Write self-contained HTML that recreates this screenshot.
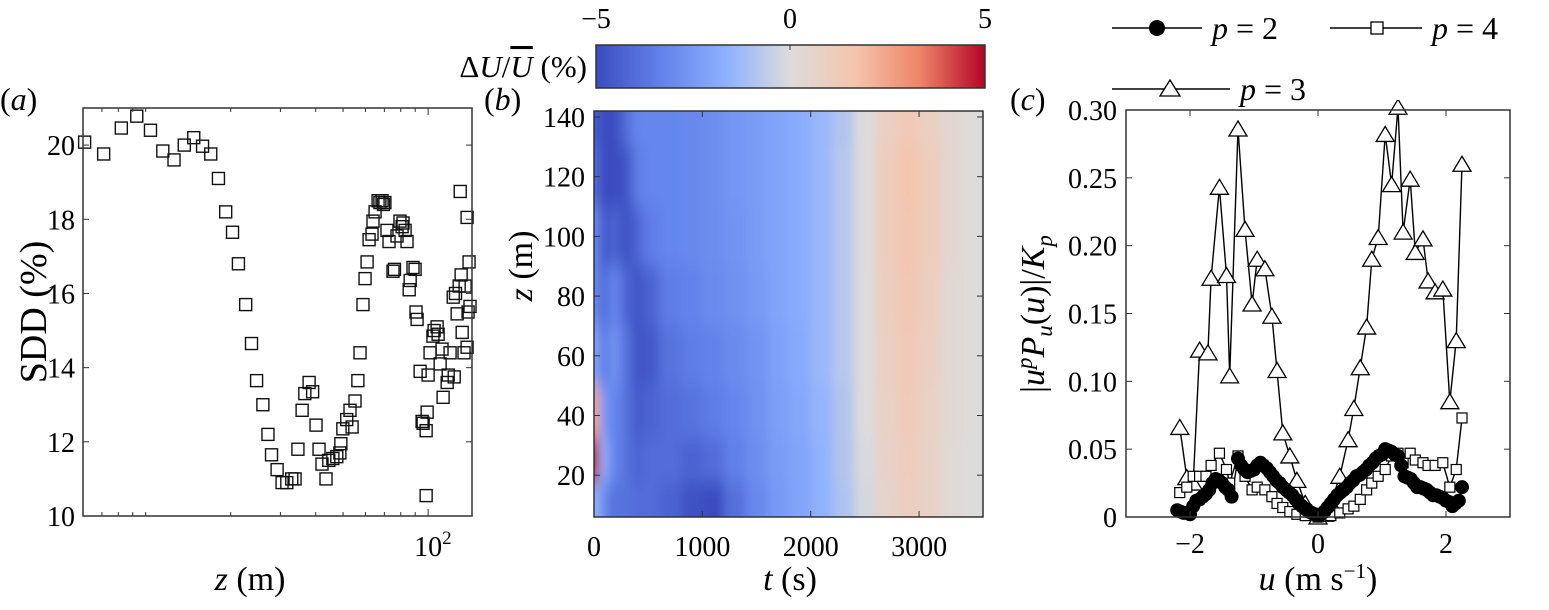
<!DOCTYPE html>
<html><head><meta charset="utf-8">
<style>
html,body{margin:0;padding:0;background:#fff;}
svg{display:block;}
svg text{font-family:"Liberation Serif","Times New Roman","DejaVu Serif",serif;}
</style></head>
<body>
<svg id="fig" width="1549" height="610" viewBox="0 0 1549 610" xmlns="http://www.w3.org/2000/svg" font-family="Liberation Serif, serif">
<defs>
<linearGradient id="cw" x1="0" x2="1" y1="0" y2="0">
<stop offset="0" stop-color="#3b4cc0"/><stop offset="0.167" stop-color="#6282ea"/><stop offset="0.333" stop-color="#8db0fe"/>
<stop offset="0.5" stop-color="#dddcdc"/><stop offset="0.667" stop-color="#f5c4ac"/><stop offset="0.833" stop-color="#ee8468"/><stop offset="1" stop-color="#b40426"/>
</linearGradient>
<clipPath id="clipB"><rect x="594" y="111" width="389" height="406"/></clipPath>
<clipPath id="clipC"><rect x="1126" y="100" width="384" height="430"/></clipPath>
<filter id="blur" x="-10%" y="-10%" width="120%" height="120%"><feGaussianBlur stdDeviation="5 9"/></filter>
</defs>

<g>
<rect x="596" y="45" width="389" height="43" fill="url(#cw)" stroke="#333" stroke-width="1.5"/>
<line x1="790" y1="45" x2="790" y2="50" stroke="#333"/>
<text x="596" y="28" font-size="28" text-anchor="middle">−5</text>
<text x="790" y="28" font-size="28" text-anchor="middle">0</text>
<text x="985" y="28" font-size="28" text-anchor="middle">5</text>
<text x="587" y="77" font-size="31" text-anchor="end">Δ<tspan font-style="italic">U</tspan>/<tspan font-style="italic" text-decoration="overline">U</tspan> (%)</text>
</g>

<g>
<g>
<line x1="1112" y1="28" x2="1202" y2="28" stroke="#000" stroke-width="1.5"/>
<circle cx="1157" cy="28" r="8" fill="#000"/>
<text x="1212" y="39" font-size="32"><tspan font-style="italic">p</tspan> = 2</text></g>
<g>
<line x1="1330" y1="28" x2="1422" y2="28" stroke="#000" stroke-width="1.5"/>
<rect x="1371" y="22" width="12" height="12" fill="#fff" stroke="#000" stroke-width="1.3"/>
<text x="1432" y="39" font-size="32"><tspan font-style="italic">p</tspan> = 4</text></g>
<g>
<line x1="1112" y1="89" x2="1230" y2="89" stroke="#000" stroke-width="1.5"/>
<polygon points="1170,80 1180,96 1160,96" fill="#fff" stroke="#000" stroke-width="1.3"/>
<text x="1240" y="100" font-size="32"><tspan font-style="italic">p</tspan> = 3</text></g>
</g>

<text x="0" y="110" font-size="32">(<tspan font-style="italic">a</tspan>)</text>
<text x="484" y="110" font-size="32">(<tspan font-style="italic">b</tspan>)</text>
<text x="1010" y="110" font-size="32">(<tspan font-style="italic">c</tspan>)</text>

<g id="pa"></g>
<g id="pb"></g>
<g id="pc"></g>
</svg>
<script>
// ---- Panel (a) data ----
const aZ = [6.08,7.1,8.2,9.3,10.4,11.5,12.6,13.7,14.8,15.9,17.0,18.1,19.2,20.3,21.3,22.6,23.7,24.7,26.0,27.1,27.9,29.2,30.4,31.6,32.9,33.8,34.6,35.8,36.6,37.9,39.0,40.1,41.1,42.1,43.5,44.5,46.0,47.5,48.7,49.1,49.9,51.5,52.9,53.8,55.1,56.4,57.4,58.8,59.8,60.8,61.8,63.3,63.8,64.9,66.5,68.7,70.3,71.5,72.7,75.1,77.6,79.5,80.9,82.9,84.2,86.4,85.7,88.4,89.9,90.6,91.4,93.7,95.2,96.0,98.4,99.2,98.4,100,101.6,104,107.6,110.3,112,113,116.8,117.8,119.6,123.7,122.7,126.7,128.8,130.9,129.9,132,135.2,137.4,137.4,138.5,139.6,140.7,67.5,69.5,81.5,76,105,108.5,125,134];
const aSDD = [20.08,19.76,20.46,20.78,20.4,19.84,19.6,20.0,20.2,19.97,19.76,19.1,18.2,17.65,16.8,15.7,14.65,13.65,13.0,12.2,11.65,11.25,10.9,10.9,11.0,11.0,11.8,12.85,13.3,13.6,13.35,12.45,11.8,11.4,11.0,11.5,11.55,11.6,11.7,11.95,12.35,12.6,12.85,12.4,13.1,13.65,14.4,15.7,16.4,16.85,17.45,17.6,17.95,18.2,18.5,18.5,18.45,17.7,17.4,16.6,17.55,17.95,17.8,17.7,17.4,16.35,16.1,16.7,16.65,15.5,15.3,13.9,12.55,12.5,12.3,12.8,10.55,13.8,14.4,14.85,15.1,14.1,14.5,13.2,13.6,13.8,14.4,13.75,15.9,15.45,16.2,16.5,18.75,14.95,16.2,14.55,18.05,15.5,16.85,15.65,18.45,18.4,17.9,16.65,15.0,14.9,16.0,14.4];
const aYTicks = [10,12,14,16,18,20];
const aXMinor = [7,8,9,10,20,30,40,50,60,70,80,90];
const aXMajor = [100];

// ---- Panel (b) data ----
const bT = [20,80,180,300,400,500,700,900,1100,1300,1500,1700,1900,2100,2300,2500,2700,2900,3100,3300,3500];
const bZ = [140,120,100,80,60,40,25,10];
const bVals = [
[-4.5,-5,-5,-4,-3.2,-3.2,-3.2,-3.1,-2.9,-2.6,-2.4,-2.1,-1.8,-1.4,-0.9,0,0.9,1.3,0.9,0.4,0],
[-4,-5,-5,-4.8,-3.5,-3.2,-3.2,-3.1,-2.9,-2.6,-2.4,-2.1,-1.8,-1.4,-0.8,0,1.1,1.6,1.1,0.4,0],
[-3,-4.8,-4.3,-4.8,-4.3,-3.5,-3.2,-3.1,-2.9,-2.7,-2.4,-2.1,-1.8,-1.4,-0.8,0,1.1,1.5,1.1,0.4,0],
[-3,-4.2,-3.2,-4.2,-4.8,-4.3,-3.5,-3.3,-3,-2.8,-2.5,-2.1,-1.8,-1.4,-0.8,0,1,1.4,1,0.3,0],
[-2,-3.7,-2.7,-3.8,-4.8,-4.6,-3.8,-3.5,-3.3,-3,-2.7,-2.2,-1.9,-1.4,-0.8,0,0.9,1.3,0.9,0.3,0],
[2.5,-2.5,-3.2,-3.8,-4.6,-4.3,-4,-3.8,-3.5,-3.2,-2.8,-2.3,-2,-1.5,-0.9,0,0.8,1.2,0.8,0.3,0],
[5,-1.5,-3.2,-3.8,-4.3,-4,-4,-4.3,-4,-3.4,-2.9,-2.4,-2.1,-1.6,-0.9,-0.1,0.7,1.1,0.7,0.2,0],
[-1.5,-3,-3.8,-3.8,-4,-4,-4.3,-4.8,-5,-3.9,-3.1,-2.5,-2.1,-1.6,-1,-0.2,0.6,1,0.7,0.2,0]
];
const bXTicks = [0,1000,2000,3000];
const bYTicks = [20,40,60,80,100,120,140];

// ---- Panel (c) data ----
const cU3 = [-2.16,-2.05,-1.95,-1.85,-1.72,-1.67,-1.54,-1.43,-1.38,-1.25,-1.14,-1.03,-0.95,-0.83,-0.72,-0.64,-0.55,-0.44,-0.33,-0.2,-0.1,0,0.1,0.2,0.34,0.47,0.56,0.66,0.76,0.84,0.94,1.05,1.15,1.25,1.33,1.44,1.52,1.64,1.72,1.83,1.95,2.06,2.16,2.25];
const cP3 = [0.066,0.029,0.025,0.123,0.121,0.176,0.243,0.178,0.104,0.286,0.212,0.157,0.19,0.183,0.148,0.108,0.062,0.045,0.027,0.01,0.003,0,0.002,0.01,0.03,0.057,0.08,0.11,0.14,0.19,0.206,0.282,0.245,0.302,0.21,0.249,0.195,0.205,0.174,0.166,0.168,0.085,0.13,0.26];
const cU4 = [-2.16,-2.05,-1.95,-1.85,-1.75,-1.67,-1.54,-1.43,-1.38,-1.25,-1.14,-1.03,-0.95,-0.83,-0.72,-0.64,-0.55,-0.44,-0.33,-0.2,0,0.2,0.34,0.47,0.56,0.66,0.76,0.84,0.94,1.05,1.15,1.25,1.33,1.44,1.52,1.64,1.72,1.83,1.95,2.06,2.16,2.25];
const cP4 = [0.018,0.022,0.03,0.03,0.03,0.038,0.047,0.035,0.025,0.045,0.03,0.02,0.022,0.02,0.015,0.01,0.007,0.004,0.002,0.001,0,0.001,0.003,0.006,0.008,0.013,0.02,0.025,0.03,0.035,0.045,0.047,0.04,0.047,0.042,0.04,0.038,0.038,0.04,0.022,0.035,0.073];
const cU2 = [-2.2,-2.15,-2.1,-2.05,-2.0,-1.95,-1.9,-1.85,-1.8,-1.75,-1.7,-1.65,-1.6,-1.55,-1.5,-1.45,-1.4,-1.35,-1.25,-1.2,-1.15,-1.1,-1.05,-1.0,-0.95,-0.9,-0.85,-0.8,-0.75,-0.7,-0.65,-0.6,-0.55,-0.5,-0.45,-0.4,-0.35,-0.3,-0.25,-0.2,-0.15,-0.1,-0.05,0,0.05,0.1,0.15,0.2,0.25,0.3,0.35,0.4,0.45,0.5,0.55,0.6,0.65,0.7,0.75,0.8,0.85,0.9,0.95,1.0,1.05,1.1,1.15,1.2,1.25,1.3,1.35,1.4,1.45,1.5,1.55,1.6,1.65,1.7,1.75,1.8,1.85,1.9,1.95,2.0,2.05,2.1,2.15,2.2,2.25];
const cP2 = [0.005,0.004,0.003,0.003,0.002,0.008,0.012,0.013,0.015,0.017,0.02,0.025,0.028,0.027,0.025,0.022,0.02,0.015,0.043,0.038,0.035,0.033,0.034,0.035,0.038,0.04,0.038,0.036,0.033,0.03,0.027,0.025,0.022,0.02,0.018,0.016,0.013,0.01,0.008,0.006,0.004,0.003,0.002,0.001,0.002,0.004,0.007,0.01,0.013,0.016,0.018,0.02,0.022,0.025,0.027,0.03,0.031,0.033,0.035,0.038,0.04,0.043,0.045,0.046,0.05,0.049,0.048,0.046,0.045,0.038,0.03,0.029,0.028,0.025,0.022,0.022,0.021,0.02,0.018,0.016,0.016,0.015,0.014,0.012,0.011,0.008,0.01,0.012,0.022];
const cXTicks = [-2,0,2];
const cYTicks = [0,0.05,0.10,0.15,0.20,0.25,0.30];
const cYLabels = ['0','0.05','0.10','0.15','0.20','0.25','0.30'];

const NS='http://www.w3.org/2000/svg';
function mk(parent,tag,attrs){const e=document.createElementNS(NS,tag);for(const k in attrs)e.setAttribute(k,attrs[k]);parent.appendChild(e);return e;}
function txt(parent,x,y,s,size,anchor){const t=mk(parent,'text',{x:x,y:y,'font-size':size,'text-anchor':anchor});t.textContent=s;return t;}

// ===== Panel A =====
const pa=document.getElementById('pa');
const A={x0:83,x1:472,y0:108,y1:516,lz0:Math.log10(6),lz1:Math.log10(143),v0:10,v1:21};
const ax=z=>A.x0+(Math.log10(z)-A.lz0)/(A.lz1-A.lz0)*(A.x1-A.x0);
const ay=v=>A.y1-(v-A.v0)/(A.v1-A.v0)*(A.y1-A.y0);
aZ.forEach((z,i)=>{const r=mk(pa,'rect',{x:ax(z)-6,y:ay(aSDD[i])-6,width:12,height:12,fill:'none',stroke:'#111','stroke-width':1.4});

});
mk(pa,'rect',{x:A.x0,y:A.y0,width:A.x1-A.x0,height:A.y1-A.y0,fill:'none',stroke:'#333','stroke-width':1.5});
aYTicks.forEach(v=>{const y=ay(v);mk(pa,'line',{x1:A.x0,x2:A.x0+6,y1:y,y2:y,stroke:'#333'});mk(pa,'line',{x1:A.x1,x2:A.x1-6,y1:y,y2:y,stroke:'#333'});
const t=txt(pa,A.x0-8,y+10,String(v),28,'end');

});
aXMinor.forEach(z=>{const x=ax(z);mk(pa,'line',{x1:x,x2:x,y1:A.y1,y2:A.y1-4,stroke:'#333'});mk(pa,'line',{x1:x,x2:x,y1:A.y0,y2:A.y0+4,stroke:'#333'});});
aXMajor.forEach(z=>{const x=ax(z);mk(pa,'line',{x1:x,x2:x,y1:A.y1,y2:A.y1-7,stroke:'#333'});mk(pa,'line',{x1:x,x2:x,y1:A.y0,y2:A.y0+7,stroke:'#333'});
const t=mk(pa,'text',{x:x-14,y:556,'font-size':28});t.innerHTML='10<tspan dy="-12" font-size="19">2</tspan>';

});
{const t=mk(pa,'text',{x:250,y:590,'font-size':34,'text-anchor':'middle'});t.innerHTML='<tspan font-style="italic">z</tspan> (m)';

}
{const t=mk(pa,'text',{x:0,y:0,'font-size':38,'text-anchor':'middle',transform:'translate(46,312) rotate(-90)'});t.textContent='SDD (%)';

}

// ===== Panel B =====
const pb=document.getElementById('pb');
const B={x0:594,x1:983,y0:111,y1:517,t0:0,t1:3590,z0:6,z1:142};
const bx=t=>B.x0+(t-B.t0)/(B.t1-B.t0)*(B.x1-B.x0);
const by=z=>B.y1-(z-B.z0)/(B.z1-B.z0)*(B.y1-B.y0);
const cstops=[[-5,[59,76,192]],[-3.33,[98,130,234]],[-1.67,[141,176,254]],[0,[221,220,220]],[1.67,[245,196,172]],[3.33,[238,132,104]],[5,[180,4,38]]];
function cmap(v){v=Math.max(-5,Math.min(5,v));for(let i=0;i<cstops.length-1;i++){const a=cstops[i],b=cstops[i+1];if(v<=b[0]){const f=(v-a[0])/(b[0]-a[0]);const c=a[1].map((x,k)=>Math.round(x+(b[1][k]-x)*f));return 'rgb('+c.join(',')+')';}}return 'rgb(180,4,38)';}
const gclip=mk(pb,'g',{'clip-path':'url(#clipB)'});
const gb=mk(gclip,'g',{filter:'url(#blur)'});
const edge=(arr,i,lo,hi)=>[i===0?lo:(arr[i-1]+arr[i])/2, i===arr.length-1?hi:(arr[i]+arr[i+1])/2];
bZ.forEach((z,r)=>{const [za,zb]=edge(bZ,r,160,-20);
 bT.forEach((t,c)=>{const [ta,tb]=edge(bT,c,-300,4100);
  const x1=bx(ta),x2=bx(tb),y1=by(za),y2=by(zb);
  const el=mk(gb,'rect',{x:Math.min(x1,x2),y:Math.min(y1,y2),width:Math.abs(x2-x1)+0.5,height:Math.abs(y2-y1)+0.5,fill:cmap(bVals[r][c])});
  
  
 });});
mk(pb,'rect',{x:B.x0,y:B.y0,width:B.x1-B.x0,height:B.y1-B.y0,fill:'none',stroke:'#333','stroke-width':1.5});
bXTicks.forEach(t=>{const x=bx(t);mk(pb,'line',{x1:x,x2:x,y1:B.y1,y2:B.y1-6,stroke:'#333'});mk(pb,'line',{x1:x,x2:x,y1:B.y0,y2:B.y0+6,stroke:'#333'});
const e=txt(pb,x,556,String(t),28,'middle');

});
bYTicks.forEach(z=>{const y=by(z);mk(pb,'line',{x1:B.x0,x2:B.x0+6,y1:y,y2:y,stroke:'#333'});mk(pb,'line',{x1:B.x1,x2:B.x1-6,y1:y,y2:y,stroke:'#333'});
const e=txt(pb,B.x0-9,y+10,String(z),28,'end');

});
{const t=mk(pb,'text',{x:790,y:590,'font-size':34,'text-anchor':'middle'});t.innerHTML='<tspan font-style="italic">t</tspan> (s)';

}
{const t=mk(pb,'text',{x:0,y:0,'font-size':34,'text-anchor':'middle',transform:'translate(532,266) rotate(-90)'});t.innerHTML='<tspan font-style="italic">z</tspan> (m)';

}

// ===== Panel C =====
const pc=document.getElementById('pc');
const C={x0:1126,x1:1510,y0:110,y1:517,u0:-3,u1:3,v0:0,v1:0.30};
const cx=u=>C.x0+(u-C.u0)/(C.u1-C.u0)*(C.x1-C.x0);
const cy=v=>C.y1-(v-C.v0)/(C.v1-C.v0)*(C.y1-C.y0);
const gc=mk(pc,'g',{'clip-path':'url(#clipC)'});
function series(us,vs,name){const pts=us.map((u,i)=>cx(u).toFixed(1)+','+cy(vs[i]).toFixed(1)).join(' ');
const l=mk(gc,'polyline',{points:pts,fill:'none',stroke:'#000','stroke-width':1.4});

}
series(cU3,cP3,'line-p3');series(cU4,cP4,'line-p4');series(cU2,cP2,'line-p2');
cU3.forEach((u,i)=>{const x=cx(u),y=cy(cP3[i]);const m=mk(gc,'polygon',{points:`${x},${y-8} ${x+9},${y+7} ${x-9},${y+7}`,fill:'#fff',stroke:'#000','stroke-width':1.3});

});
cU4.forEach((u,i)=>{const x=cx(u),y=cy(cP4[i]);const m=mk(gc,'rect',{x:x-5,y:y-5,width:10,height:10,fill:'#fff',stroke:'#000','stroke-width':1.2});

});
cU2.forEach((u,i)=>{const m=mk(gc,'circle',{cx:cx(u),cy:cy(cP2[i]),r:7,fill:'#000'});

});
mk(pc,'rect',{x:C.x0,y:C.y0,width:C.x1-C.x0,height:C.y1-C.y0,fill:'none',stroke:'#333','stroke-width':1.5});
cXTicks.forEach(u=>{const x=cx(u);mk(pc,'line',{x1:x,x2:x,y1:C.y1,y2:C.y1-6,stroke:'#333'});mk(pc,'line',{x1:x,x2:x,y1:C.y0,y2:C.y0+6,stroke:'#333'});
const e=txt(pc,x,553,u<0?'−'+Math.abs(u):String(u),28,'middle');

});
cYTicks.forEach((v,i)=>{const y=cy(v);mk(pc,'line',{x1:C.x0,x2:C.x0+6,y1:y,y2:y,stroke:'#333'});mk(pc,'line',{x1:C.x1,x2:C.x1-6,y1:y,y2:y,stroke:'#333'});
const e=txt(pc,C.x0-9,y+10,cYLabels[i],28,'end');

});
{const t=mk(pc,'text',{x:1318,y:590,'font-size':34,'text-anchor':'middle'});t.innerHTML='<tspan font-style="italic">u</tspan> (m s<tspan dy="-12" font-size="21">−1</tspan><tspan dy="12">)</tspan>';

}
{const t=mk(pc,'text',{x:0,y:0,'font-size':34,'text-anchor':'middle',transform:'translate(1044,314) rotate(-90)'});
t.innerHTML='|<tspan font-style="italic">u</tspan><tspan dy="-12" font-size="23" font-style="italic">p</tspan><tspan dy="12" font-style="italic">P</tspan><tspan dy="8" font-size="23" font-style="italic">u</tspan><tspan dy="-8">(</tspan><tspan font-style="italic">u</tspan>)|/<tspan font-style="italic">K</tspan><tspan dy="8" font-size="23" font-style="italic">p</tspan>';

}
</script>
</body></html>
